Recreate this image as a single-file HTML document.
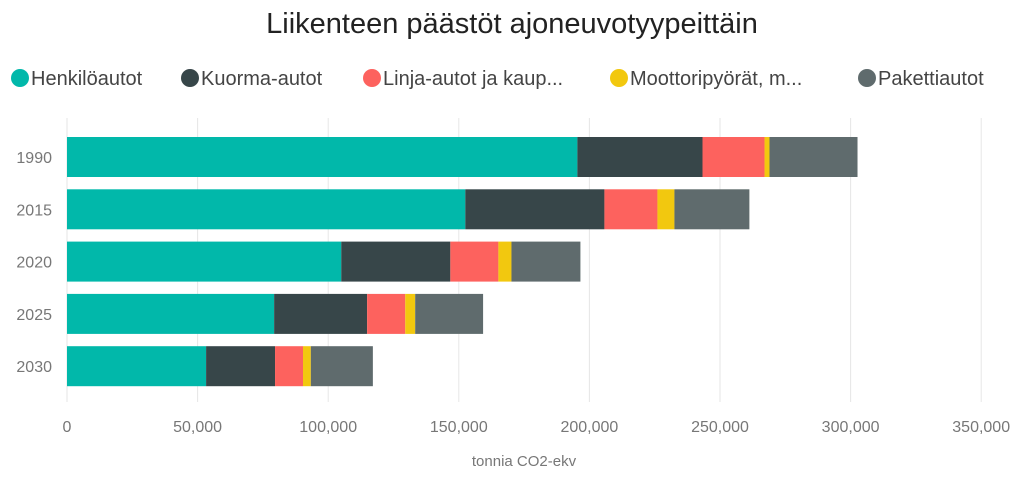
<!DOCTYPE html>
<html><head><meta charset="utf-8"><style>
body{margin:0;background:#fff;width:1024px;height:481px;overflow:hidden;font-family:"Liberation Sans",sans-serif}
</style></head><body>
<svg width="1024" height="481">
<text x="512" y="33" text-anchor="middle" font-size="29" fill="#222">Liikenteen päästöt ajoneuvotyypeittäin</text>
<g id="legend"></g>
<g id="grid"></g>
<g id="bars"></g>
<g id="ylab"></g>
<g id="xlab"></g>
<text x="524" y="466" text-anchor="middle" font-size="15" fill="#777">tonnia CO2-ekv</text>
</svg>
<script>
const categories=["1990","2015","2020","2025","2030"];
const seriesNames=["Henkilöautot","Kuorma-autot","Linja-autot ja kaup...","Moottoripyörät, m...","Pakettiautot"];
const henkilo=[195400,152500,105000,79300,53250];
const kuorma=[47900,53250,41760,35600,26400];
const linja=[23750,20300,18400,14600,10700];
const moottori=[1900,6500,5000,3800,3000];
const paketti=[33700,28700,26400,26000,23750];
const ticks=[0,50000,100000,150000,200000,250000,300000,350000];
const colors=["#01B8AA","#374649","#FD625E","#F2C80F","#5F6B6D"];
const series=[henkilo,kuorma,linja,moottori,paketti];
const NS="http://www.w3.org/2000/svg";
const x0=67,pxPer=130.6/50000;
const xs=v=>x0+v*pxPer;
const bandTop=131,band=52.3,barH=40;
const yb=i=>bandTop+i*band+6;
function mk(t,a,p){const e=document.createElementNS(NS,t);for(const k in a)e.setAttribute(k,a[k]);p.appendChild(e);return e;}
const grid=document.getElementById('grid'),xlab=document.getElementById('xlab');
ticks.forEach(t=>{
 const l=mk('line',{x1:xs(t),x2:xs(t),y1:118,y2:402,stroke:'#e6e6e6','stroke-width':1},grid);
 
 
 const tx=mk('text',{x:xs(t),y:432,'text-anchor':'middle','font-size':16,fill:'#777'},xlab);
 tx.textContent=t.toLocaleString('en-US');
 
 
});
const bars=document.getElementById('bars'),ylab=document.getElementById('ylab');
categories.forEach((c,i)=>{
 let acc=0;
 series.forEach((s,j)=>{
  const r=mk('rect',{x:xs(acc),y:yb(i),width:s[i]*pxPer,height:barH,fill:colors[j]},bars);
  
  
  acc+=s[i];
 });
 const t=mk('text',{x:52,y:yb(i)+barH/2+6,'text-anchor':'end','font-size':16,fill:'#777'},ylab);
 t.textContent=c;
 
 
});
const lg=document.getElementById('legend');
const lx=[20,190,372,619,867];
seriesNames.forEach((n,j)=>{
 const c=mk('circle',{cx:lx[j],cy:78,r:9,fill:colors[j]},lg);
 
 
 const t=mk('text',{x:lx[j]+11,y:85,'font-size':20,fill:'#444'},lg);
 t.textContent=n;
 
 
});
</script>
</body></html>
